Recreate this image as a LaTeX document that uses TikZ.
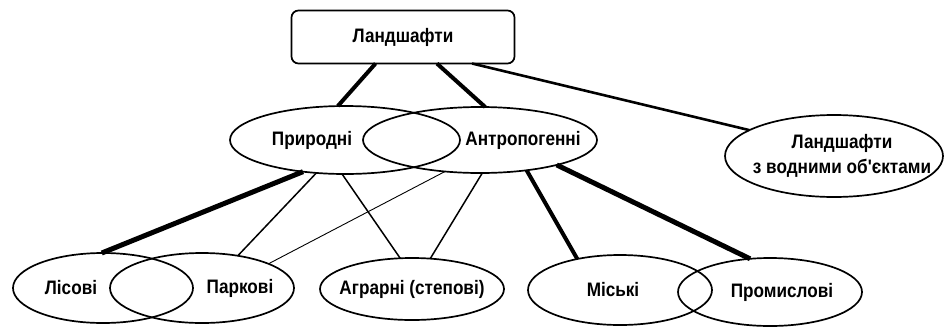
\documentclass[tikz,border=0pt]{standalone}
\usepackage{fontspec}
\setmainfont{Liberation Sans}[FakeStretch=0.88,Ligatures=TeXOff]
\usetikzlibrary{shapes.geometric}
% text moved sideways inside an oval, without widening it
\newcommand{\offtxt}[2]{\makebox[0pt]{\hspace*{#1}\hspace*{#1}#2}}

\begin{document}
\begin{tikzpicture}[x=1pt,y=1pt,
    lbl/.style={font=\bfseries\fontsize{19.5}{25}\selectfont},
    oval/.style={lbl,draw,ellipse,line width=1.7pt,inner sep=0pt,outer sep=0pt},
    headbox/.style={lbl,draw,rounded corners=7pt,line width=1.7pt,inner sep=0pt,outer sep=0pt,
      minimum width=223,minimum height=53},
    heavy/.style={line width=4pt},
    heavier/.style={line width=5pt},
    mid/.style={line width=2.6pt},
    light/.style={line width=1.5pt},
    hair/.style={line width=0.9pt}]
  \useasboundingbox (0,0) rectangle (944,-327);
  % top level
  \node[headbox] (land) at (403,-37) {Ландшафти};
  % second level
  \node[oval,minimum width=230,minimum height=68] (pryr) at (345,-140) {\offtxt{-33pt}{Природні}};
  \node[oval,minimum width=234,minimum height=66] (antr) at (480,-140) {\offtxt{43pt}{Антропогенні}};
  \node[oval,minimum width=218,minimum height=82] (vodn) at (834,-156)
    {\offtxt{8pt}{\begin{tabular}{@{}c@{}}Ландшафти\\з водними об'єктами\end{tabular}}};
  % third level
  \node[oval,minimum width=180,minimum height=70] (lis) at (103,-288) {\offtxt{-32pt}{Лісові}};
  \node[oval,minimum width=184,minimum height=70] (park) at (202,-288) {\offtxt{38pt}{Паркові}};
  \node[oval,minimum width=184,minimum height=62] (ahr) at (412,-289) {\offtxt{0pt}{Аграрні (степові)}};
  \node[oval,minimum width=184,minimum height=70] (misk) at (620,-290) {\offtxt{-7pt}{Міські}};
  \node[oval,minimum width=184,minimum height=68] (prom) at (770,-292) {\offtxt{12pt}{Промислові}};
  % connectors
  \draw[heavy] (land.224) -- (pryr.102);
  \draw[heavy] (land.322) -- (antr.81);
  \draw[mid] (land.339) -- (vodn.163);
  \draw[heavier] (pryr.217) -- (lis.92);
  \draw[light] (pryr.229) -- (park.42);
  \draw[light] (pryr.265) -- (ahr.111);
  \draw[hair] (antr.222) -- (park.20);
  \draw[light] (antr.274) -- (ahr.59);
  \draw[heavy] (antr.327) -- (misk.144);
  \draw[heavier] (antr.342) -- (prom.121);
\end{tikzpicture}
\end{document}
